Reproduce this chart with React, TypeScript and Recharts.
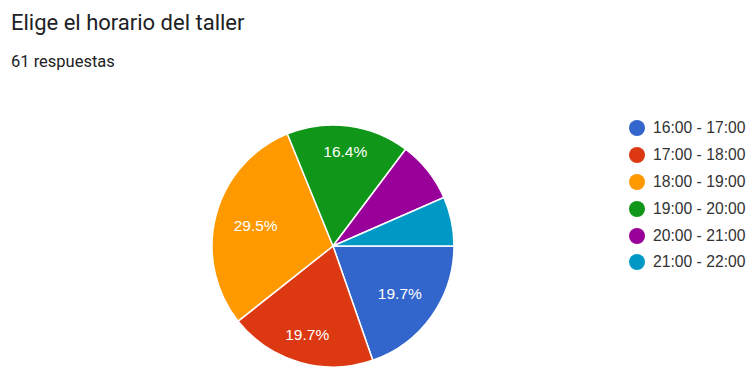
import React from "react";
import { PieChart, Pie, Cell, Legend } from "recharts";

const categories = ["16:00 - 17:00", "17:00 - 18:00", "18:00 - 19:00", "19:00 - 20:00", "20:00 - 21:00", "21:00 - 22:00"];
const counts = [12, 12, 18, 10, 5, 4];
const colors = ["#3366cc", "#dc3912", "#ff9900", "#109618", "#990099", "#0099c6"];
const title = "Elige el horario del taller";
const subtitle = "61 respuestas";

const data = categories.map((name, i) => ({ name, value: counts[i] }));
const RAD = Math.PI / 180;

const renderLabel = (props: any) => {
  const { cx, cy, midAngle, outerRadius, percent } = props;
  if (percent < 0.1) return null;
  const c = Math.cos(-midAngle * RAD);
  const s = Math.sin(-midAngle * RAD);
  const r = outerRadius * 0.845 - (22 * Math.abs(c) + 4 * Math.abs(s));
  const x = cx + r * c;
  const y = cy + r * s;
  return (
    <text x={x} y={y} fill="#ffffff" textAnchor="middle" dominantBaseline="central" fontSize={15.5} fontFamily="Arial, 'Liberation Sans', sans-serif">
      {(percent * 100).toFixed(1) + "%"}
    </text>
  );
};

const renderLegend = () => (
  <div style={{ fontFamily: "Arial, 'Liberation Sans', sans-serif" }}>
    {data.map((d, i) => (
      <div key={d.name} style={{ display: "flex", alignItems: "center", height: 26.8 }}>
        <span style={{ display: "inline-block", width: 16, height: 16, borderRadius: 8, background: colors[i], marginRight: 8, flexShrink: 0 }} />
        <span style={{ fontSize: 15.7, color: "#333333", whiteSpace: "nowrap" }}>{d.name}</span>
      </div>
    ))}
  </div>
);

export default function App() {
  return (
    <div style={{ position: "absolute", left: 0, top: 0, width: 752, height: 372, background: "#ffffff", overflow: "hidden" }}>
      <div style={{ position: "absolute", left: 11, top: 10, fontFamily: "Roboto, sans-serif", fontSize: 22, color: "#202124", whiteSpace: "nowrap" }}>{title}</div>
      <div style={{ position: "absolute", left: 11, top: 52, fontFamily: "Roboto, sans-serif", fontSize: 16.5, color: "#202124", whiteSpace: "nowrap" }}>{subtitle}</div>
      <PieChart width={752} height={372} margin={{ top: 0, right: 0, bottom: 0, left: 0 }} style={{ position: "absolute", left: 0, top: 0 }}>
        <Pie
          data={data}
          dataKey="value"
          nameKey="name"
          cx={333}
          cy={246}
          outerRadius={121}
          startAngle={0}
          endAngle={-360}
          stroke="#ffffff"
          strokeWidth={1.5}
          label={renderLabel}
          labelLine={false}
          isAnimationActive={false}
        >
          {data.map((d, i) => (
            <Cell key={d.name} fill={colors[i]} />
          ))}
        </Pie>
        <Legend layout="vertical" verticalAlign="top" align="right" content={renderLegend} wrapperStyle={{ left: 629, top: 115, width: 123 }} />
      </PieChart>
    </div>
  );
}
